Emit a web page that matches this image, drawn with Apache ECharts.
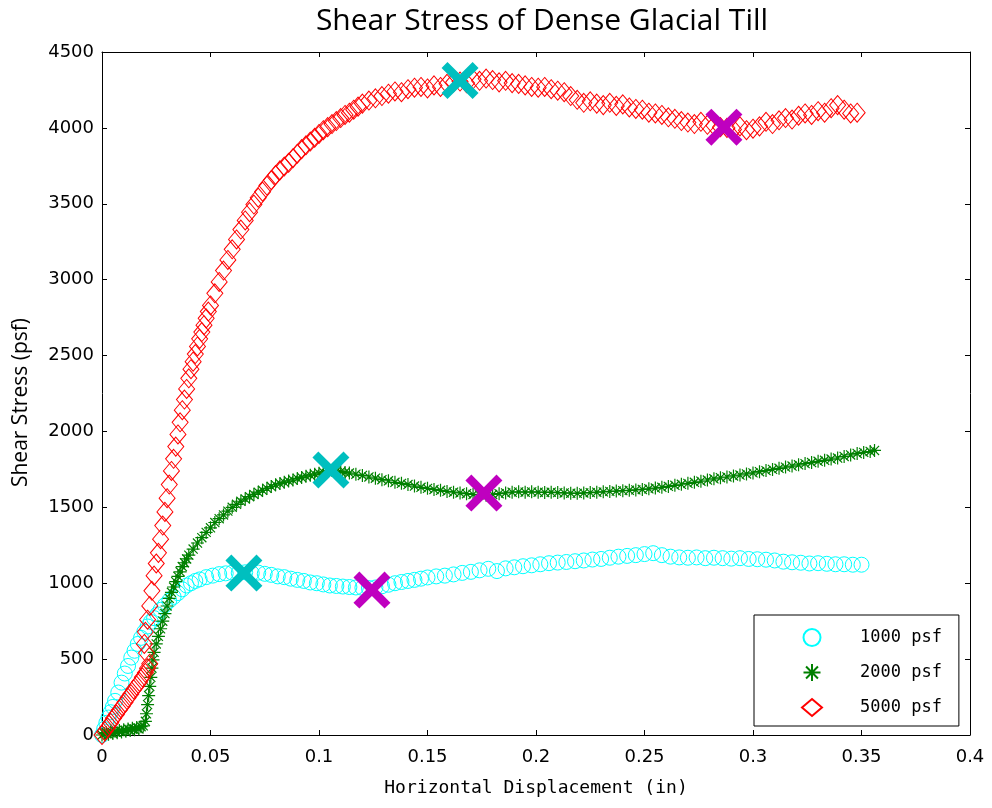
<!DOCTYPE html>
<html>
<head>
<meta charset="utf-8">
<script src="https://cdn.jsdelivr.net/npm/echarts@6/dist/echarts.min.js"></script>
<style>
html,body{margin:0;padding:0;background:#fff;}
#chart{width:992px;height:808px;}
</style>
</head>
<body>
<div id="chart"></div>
<script>
// ---- data ----
const titleText = "Shear Stress of Dense Glacial Till";
const xName = "Horizontal Displacement (in)";
const yName = "Shear Stress (psf)";
const seriesNames = ["1000 psf", "2000 psf", "5000 psf"];

const disp1000 = [0,0.001,0.002,0.003,0.004,0.005,0.006,0.0075,0.009,0.0105,0.012,0.0135,0.015,0.0165,0.018,0.0195,0.021,0.0225,0.024,0.0255,0.027,0.029,0.031,0.033,0.035,0.037,0.039,0.041,0.043,0.045,0.048,0.051,0.054,0.057,0.060,0.063,0.066,0.069,0.072,0.075,0.078,0.081,0.084,0.087,0.090,0.093,0.096,0.099,0.102,0.105,0.108,0.111,0.114,0.117,0.120,0.123,0.126,0.129,0.132,0.135,0.138,0.141,0.144,0.147,0.150,0.154,0.158,0.162,0.166,0.170,0.174,0.178,0.182,0.186,0.190,0.194,0.198,0.202,0.206,0.210,0.214,0.218,0.222,0.226,0.230,0.234,0.238,0.242,0.246,0.250,0.254,0.258,0.262,0.266,0.270,0.274,0.278,0.282,0.286,0.290,0.294,0.298,0.302,0.306,0.310,0.314,0.318,0.322,0.326,0.330,0.334,0.338,0.342,0.346,0.350];
const stress1000 = [0,40,80,115,150,185,225,280,345,405,455,510,555,600,640,680,715,745,770,795,825,855,885,910,935,960,985,1000,1015,1025,1040,1050,1060,1065,1070,1068,1072,1066,1070,1062,1055,1045,1040,1030,1022,1015,1005,1000,992,985,982,978,975,972,970,968,972,980,990,1000,1008,1015,1022,1030,1038,1045,1050,1058,1068,1075,1085,1095,1080,1098,1105,1112,1118,1125,1132,1136,1140,1145,1150,1156,1160,1168,1175,1180,1185,1192,1198,1185,1175,1170,1168,1170,1165,1168,1165,1162,1165,1160,1158,1155,1150,1142,1138,1135,1130,1132,1128,1125,1125,1122,1122];

const disp2000 = [0,0.001,0.002,0.003,0.004,0.005,0.006,0.007,0.008,0.009,0.010,0.011,0.012,0.013,0.014,0.015,0.016,0.017,0.018,0.019,0.020,0.0205,0.021,0.0215,0.022,0.0225,0.023,0.0235,0.024,0.025,0.026,0.027,0.028,0.029,0.030,0.031,0.032,0.033,0.034,0.035,0.036,0.037,0.038,0.039,0.040,0.042,0.044,0.046,0.048,0.050,0.052,0.054,0.056,0.058,0.060,0.062,0.064,0.066,0.068,0.070,0.072,0.074,0.076,0.078,0.080,0.082,0.084,0.086,0.088,0.090,0.092,0.094,0.096,0.098,0.100,0.102,0.104,0.106,0.108,0.110,0.112,0.114,0.117,0.120,0.123,0.126,0.129,0.132,0.135,0.138,0.141,0.144,0.147,0.150,0.153,0.156,0.159,0.162,0.165,0.168,0.171,0.174,0.177,0.180,0.183,0.186,0.189,0.192,0.195,0.198,0.201,0.204,0.207,0.210,0.213,0.216,0.219,0.222,0.225,0.228,0.231,0.234,0.237,0.240,0.243,0.246,0.249,0.252,0.255,0.258,0.261,0.264,0.267,0.270,0.273,0.276,0.279,0.282,0.285,0.288,0.291,0.294,0.297,0.300,0.303,0.306,0.309,0.312,0.315,0.318,0.321,0.324,0.327,0.330,0.333,0.336,0.339,0.342,0.345,0.348,0.351,0.354,0.356];
const stress2000 = [0,10,15,5,20,10,25,15,30,20,35,25,40,30,45,35,50,40,55,60,90,140,200,260,320,380,440,495,545,600,650,700,750,800,850,900,940,975,1010,1045,1075,1110,1135,1160,1185,1225,1265,1300,1335,1365,1400,1425,1450,1475,1500,1520,1540,1555,1570,1585,1600,1612,1625,1637,1648,1657,1665,1673,1680,1690,1697,1705,1712,1718,1725,1732,1738,1742,1738,1735,1730,1726,1718,1710,1700,1692,1682,1675,1665,1658,1650,1640,1632,1625,1618,1612,1605,1600,1595,1590,1585,1582,1580,1585,1590,1595,1600,1602,1600,1602,1600,1598,1600,1597,1595,1593,1592,1595,1597,1600,1602,1605,1607,1610,1612,1615,1618,1622,1627,1632,1638,1645,1652,1658,1665,1672,1680,1688,1695,1700,1707,1713,1720,1727,1735,1742,1750,1757,1765,1772,1780,1788,1795,1803,1810,1818,1825,1835,1845,1855,1862,1868,1875];

const disp5000 = [0,0.0013,0.0026,0.004,0.0053,0.0066,0.008,0.0093,0.0106,0.012,0.0133,0.0146,0.016,0.0173,0.0186,0.020,0.021,0.022,0.0205,0.0195,0.020,0.021,0.022,0.023,0.024,0.025,0.026,0.027,0.028,0.029,0.030,0.031,0.032,0.033,0.034,0.035,0.036,0.037,0.038,0.039,0.040,0.041,0.042,0.043,0.044,0.045,0.046,0.047,0.048,0.049,0.050,0.052,0.054,0.056,0.058,0.060,0.062,0.064,0.066,0.068,0.070,0.072,0.074,0.076,0.078,0.080,0.082,0.084,0.086,0.088,0.090,0.092,0.094,0.096,0.098,0.100,0.102,0.104,0.106,0.108,0.110,0.112,0.114,0.116,0.118,0.120,0.123,0.126,0.129,0.132,0.135,0.138,0.141,0.144,0.147,0.150,0.153,0.156,0.159,0.162,0.165,0.168,0.171,0.174,0.177,0.180,0.183,0.186,0.189,0.192,0.195,0.198,0.201,0.204,0.207,0.210,0.213,0.216,0.219,0.222,0.225,0.228,0.231,0.234,0.237,0.240,0.243,0.246,0.249,0.252,0.255,0.258,0.261,0.264,0.267,0.270,0.273,0.276,0.279,0.282,0.285,0.288,0.291,0.294,0.297,0.300,0.303,0.306,0.309,0.312,0.315,0.318,0.321,0.324,0.327,0.330,0.333,0.336,0.339,0.342,0.345,0.348];
const stress5000 = [0,25,50,80,110,135,165,190,215,245,270,300,325,350,380,410,440,470,540,600,680,760,850,950,1050,1130,1200,1290,1380,1470,1560,1650,1740,1820,1900,1980,2060,2140,2210,2280,2350,2410,2460,2510,2560,2610,2655,2700,2745,2790,2830,2910,2985,3060,3130,3200,3265,3330,3390,3445,3495,3540,3580,3620,3655,3690,3720,3745,3770,3800,3830,3860,3885,3910,3935,3960,3985,4005,4025,4045,4065,4085,4100,4120,4140,4160,4180,4195,4210,4225,4240,4235,4255,4265,4270,4260,4280,4270,4290,4300,4305,4295,4320,4310,4325,4315,4300,4310,4295,4290,4280,4270,4265,4270,4255,4245,4235,4210,4185,4165,4175,4160,4150,4165,4145,4155,4135,4125,4120,4100,4095,4085,4070,4060,4045,4035,4025,4040,4020,4015,4005,4000,3990,4010,3985,3995,4010,4040,4025,4050,4065,4055,4080,4095,4085,4110,4100,4130,4150,4120,4095,4100];

// peak (cyan X) and residual (magenta X) points
const peakDisp = [0.0654, 0.1055, 0.165];
const peakStress = [1067, 1746, 4312];
const residDisp = [0.1244, 0.176, 0.2866];
const residStress = [955, 1594, 4005];

const xTicks = [0, 0.05, 0.1, 0.15, 0.2, 0.25, 0.3, 0.35, 0.4];
const yTicks = [0, 500, 1000, 1500, 2000, 2500, 3000, 3500, 4000, 4500];

// ---- build ----
const zip = (a, b) => a.map((v, i) => [v, b[i]]);
const asterisk = 'path://M5,0L5,10M0,5L10,5M1.5,1.5L8.5,8.5M8.5,1.5L1.5,8.5';
const bigX = 'path://M0,16L16,0L50,34L84,0L100,16L66,50L100,84L84,100L50,66L16,100L0,84L34,50Z';
const tickFont = 'DejaVu Sans';
const spacedFont = 'DejaVu Sans Mono';

const chart = echarts.init(document.getElementById('chart'), null, {renderer: 'canvas'});
const mkAxis = (extra) => Object.assign({
  type: 'value',
  axisLine: {show: true, onZero: false, lineStyle: {color: '#000', width: 1}},
  axisTick: {show: true, inside: true, length: 5, lineStyle: {color: '#000', width: 1}},
  splitLine: {show: false}
}, extra);
const option = {
  animation: false,
  backgroundColor: '#fff',
  title: {
    text: titleText, left: 537, top: 1, textAlign: 'center',
    textStyle: {fontFamily: 'Open Sans', fontSize: 30, fontWeight: 'normal', color: '#000'}
  },
  grid: {left: 102, top: 52, right: 22, bottom: 73},
  legend: {
    orient: 'vertical', left: 754, top: 615,
    data: seriesNames,
    backgroundColor: '#fff', borderColor: '#000', borderWidth: 1, borderRadius: 0,
    padding: [13, 17, 9, 47], itemGap: 16, itemWidth: 20, itemHeight: 17,
    textStyle: {fontFamily: spacedFont, fontSize: 17, color: '#000', padding: [0, 0, 0, 33]}
  },
  xAxis: [
    mkAxis({
      min: 0, max: 0.4, interval: 0.05, position: 'bottom',
      name: xName, nameLocation: 'middle', nameGap: 44,
      nameTextStyle: {fontFamily: spacedFont, fontSize: 18, color: '#000'},
      axisLabel: {fontFamily: tickFont, fontSize: 18, color: '#000', margin: 13,
        formatter: v => { const t = xTicks.find(k => Math.abs(k - v) < 1e-9); return t === undefined ? '' : String(t); }}
    }),
    mkAxis({
      min: 0, max: 0.4, interval: 0.05, position: 'top', axisLabel: {show: false}
    })
  ],
  yAxis: [
    mkAxis({
      min: 0, max: 4500, interval: 500, position: 'left',
      name: yName, nameLocation: 'middle', nameGap: 70, nameRotate: 90,
      nameTextStyle: {fontFamily: 'Open Sans', fontSize: 21, color: '#000', padding: [0, 18, 0, 0]},
      axisLabel: {fontFamily: tickFont, fontSize: 18, color: '#000', margin: 8,
        formatter: v => { const t = yTicks.find(k => k === v); return t === undefined ? '' : String(t); }}
    }),
    mkAxis({
      min: 0, max: 4500, interval: 500, position: 'right', axisLabel: {show: false}
    })
  ],
  series: [
    {
      name: seriesNames[0], type: 'scatter', data: zip(disp1000, stress1000),
      symbol: 'circle', symbolSize: 15,
      itemStyle: {color: 'rgba(0,0,0,0)', borderColor: '#00FFFF', borderWidth: 1, opacity: 1}
    },
    {
      name: seriesNames[1], type: 'scatter', data: zip(disp2000, stress2000),
      symbol: asterisk, symbolSize: 13,
      itemStyle: {color: 'rgba(0,0,0,0)', borderColor: '#008000', borderWidth: 1.2, opacity: 1}
    },
    {
      name: seriesNames[2], type: 'scatter', data: zip(disp5000, stress5000),
      symbol: 'diamond', symbolSize: [16, 19],
      itemStyle: {color: 'rgba(0,0,0,0)', borderColor: '#FF0000', borderWidth: 1, opacity: 1}
    },
    {
      name: 'peak', type: 'scatter', data: zip(peakDisp, peakStress),
      symbol: bigX, symbolSize: 37, z: 5,
      itemStyle: {color: '#00BFBF', opacity: 1}
    },
    {
      name: 'residual', type: 'scatter', data: zip(residDisp, residStress),
      symbol: bigX, symbolSize: 37, z: 5,
      itemStyle: {color: '#BF00BF', opacity: 1}
    }
  ]
};
chart.setOption(option);
</script>
</body>
</html>
